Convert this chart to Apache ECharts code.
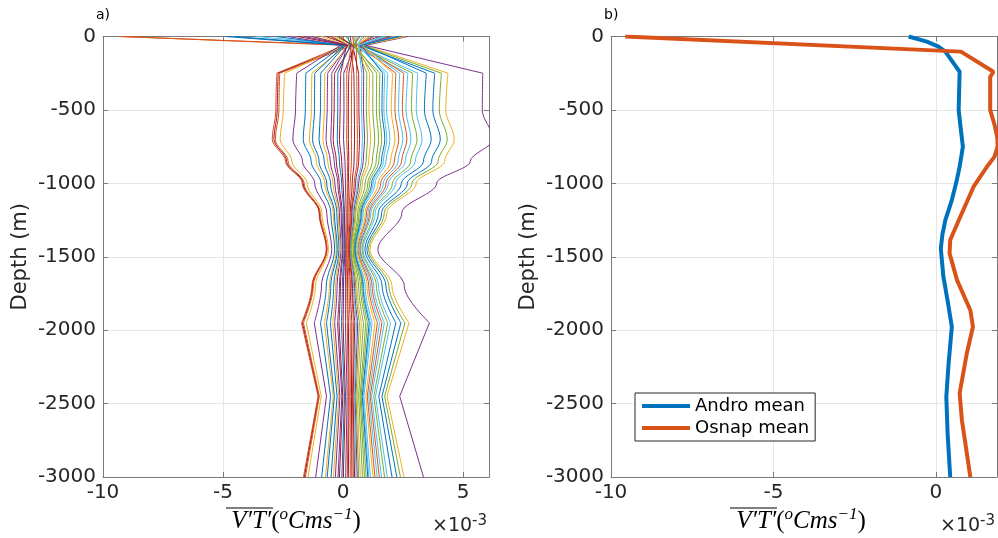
<!DOCTYPE html>
<html><head><meta charset="utf-8">
<script src="https://cdn.jsdelivr.net/npm/echarts@6/dist/echarts.min.js"></script>
<style>html,body{margin:0;padding:0;background:#fff}#c{width:998px;height:538px}</style>
</head><body><div id="c"></div>
<script>
// Depth levels (m) of each profile in panel a)
const profileDepths = [0, -60, -250, -500, -700, -850, -1000, -1200, -1450, -1700, -1950, -2450, -3000];
// V'T' (x 1e-3 degC m/s) of each profile at the depths above
const profiles = [
  [1.2, 0.7, 3.82, 3.74, 4.05, 3.69, 2.68, 1.61, 0.99, 1.79, 2.41, 1.62, 2.24],
  [-9.3, 0.05, -2.76, -2.80, -2.95, -2.40, -1.70, -1.00, -0.70, -1.30, -1.73, -1.04, -1.65],
  [2.1, 0.9, 4.37, 4.28, 4.63, 4.23, 3.05, 1.83, 1.12, 2.04, 2.75, 1.83, 2.54],
  [2.7, 0.95, 5.82, 5.8, 6.25, 5.3, 3.9, 2.45, 1.45, 2.55, 3.6, 2.36, 3.35],
  [1.6, 0.8, 4.10, 4.01, 4.34, 3.96, 2.87, 1.72, 1.06, 1.91, 2.58, 1.73, 2.39],
  [0.4, 0.6, 3.11, 3.05, 3.29, 3.01, 2.19, 1.34, 0.83, 1.48, 1.98, 1.35, 1.84],
  [-0.5, 0.2, -2.70, -2.74, -2.88, -2.35, -1.66, -0.98, -0.68, -1.27, -1.69, -1.01, -1.61],
  [2.4, 0.85, 3.47, 3.39, 3.67, 3.35, 2.43, 1.47, 0.91, 1.63, 2.2, 1.49, 2.04],
  [-9.25, 0.4, -2.64, -2.67, -2.82, -2.29, -1.62, -0.95, -0.66, -1.24, -1.65, -0.99, -1.57],
  [-1.2, 0.1, -2.43, -2.49, -2.62, -2.13, -1.5, -0.88, -0.61, -1.15, -1.53, -0.91, -1.46],
  [-2.3, -0.1, -1.93, -1.98, -2.09, -1.69, -1.18, -0.68, -0.47, -0.90, -1.2, -0.69, -1.14],
  [0.9, 0.55, 2.90, 2.85, 3.08, 2.82, 2.06, 1.26, 0.79, 1.39, 1.86, 1.28, 1.73],
  [-3.6, 0.3, 2.70, 2.62, 2.83, 2.59, 1.89, 1.16, 0.73, 1.28, 1.72, 1.19, 1.6],
  [0.7, 0.45, 0.24, 0.22, 0.22, 0.24, 0.22, 0.2, 0.16, 0.19, 0.22, 0.25, 0.22],
  [-4.9, 0.0, -1.55, -1.57, -1.66, -1.33, -0.92, -0.51, -0.35, -0.70, -0.94, -0.52, -0.89],
  [1.9, 0.7, 2.53, 2.47, 2.66, 2.44, 1.79, 1.1, 0.7, 1.21, 1.62, 1.13, 1.51],
  [-0.9, 0.15, -1.30, -1.32, -1.40, -1.11, -0.76, -0.41, -0.28, -0.57, -0.78, -0.41, -0.73],
  [1.5, 0.5, 0.03, 0.04, 0.02, 0.08, 0.1, 0.13, 0.11, 0.1, 0.1, 0.17, 0.11],
  [-0.3, 0.4, 1.53, 1.51, 1.61, 1.49, 1.11, 0.72, 0.47, 0.78, 1.02, 0.75, 0.96],
  [2.2, 0.75, 2.36, 2.31, 2.49, 2.29, 1.68, 1.04, 0.66, 1.14, 1.52, 1.07, 1.42],
  [0.3, 0.35, -0.35, -0.37, -0.41, -0.28, -0.16, -0.04, -0.01, -0.11, -0.17, -0.01, -0.15],
  [-4.5, 0.1, -0.93, -0.94, -1.0, -0.78, -0.52, -0.26, -0.17, -0.39, -0.53, -0.25, -0.5],
  [1.1, 0.65, 2.20, 2.16, 2.32, 2.14, 1.57, 0.98, 0.62, 1.07, 1.43, 1.01, 1.33],
  [2.6, 0.8, 2.07, 2.01, 2.16, 1.98, 1.46, 0.92, 0.59, 1.0, 1.33, 0.95, 1.25],
  [-1.6, 0.2, -0.64, -0.66, -0.71, -0.53, -0.34, -0.15, -0.09, -0.25, -0.35, -0.13, -0.32],
  [0.5, 0.5, 1.40, 1.39, 1.48, 1.38, 1.03, 0.67, 0.44, 0.72, 0.95, 0.71, 0.89],
  [1.7, 0.6, 1.86, 1.81, 1.95, 1.79, 1.33, 0.84, 0.54, 0.92, 1.21, 0.87, 1.14],
  [-0.7, 0.3, 0.45, 0.47, 0.48, 0.46, 0.38, 0.3, 0.23, 0.3, 0.37, 0.35, 0.37],
  [-2.8, 0.05, -1.18, -1.19, -1.27, -1.0, -0.68, -0.36, -0.24, -0.51, -0.69, -0.36, -0.66],
  [1.3, 0.55, 0.57, 0.58, 0.6, 0.58, 0.46, 0.34, 0.25, 0.36, 0.44, 0.39, 0.43],
  [-0.4, 0.25, -0.76, -0.78, -0.84, -0.64, -0.42, -0.2, -0.12, -0.31, -0.43, -0.18, -0.4],
  [2.0, 0.7, 0.86, 0.85, 0.9, 0.84, 0.65, 0.45, 0.32, 0.48, 0.61, 0.5, 0.59],
  [0.1, 0.45, 1.24, 1.24, 1.32, 1.22, 0.92, 0.61, 0.41, 0.65, 0.85, 0.65, 0.81],
  [0.8, 0.6, 1.74, 1.7, 1.82, 1.68, 1.25, 0.79, 0.52, 0.86, 1.14, 0.83, 1.07],
  [-1.9, 0.15, -0.10, -0.12, -0.15, -0.06, 0.0, 0.06, 0.07, 0.02, 0.0, 0.1, 0.01],
  [2.3, 0.75, 1.65, 1.62, 1.74, 1.6, 1.19, 0.76, 0.5, 0.83, 1.09, 0.8, 1.03],
  [-0.1, 0.35, 0.15, 0.16, 0.15, 0.19, 0.18, 0.18, 0.15, 0.16, 0.18, 0.22, 0.18],
  [1.0, 0.6, 1.11, 1.08, 1.15, 1.07, 0.81, 0.54, 0.37, 0.58, 0.76, 0.59, 0.72],
  [-1.3, 0.2, -0.47, -0.47, -0.51, -0.37, -0.22, -0.08, -0.03, -0.15, -0.23, -0.05, -0.21],
  [0.6, 0.5, 0.99, 0.97, 1.02, 0.96, 0.73, 0.5, 0.34, 0.53, 0.68, 0.54, 0.65],
  [1.8, 0.65, 0.78, 0.77, 0.81, 0.77, 0.6, 0.42, 0.3, 0.44, 0.56, 0.47, 0.54],
  [-0.2, 0.4, 0.65, 0.66, 0.69, 0.65, 0.52, 0.37, 0.27, 0.39, 0.49, 0.42, 0.48],
  [0.2, 0.3, -0.22, -0.22, -0.24, -0.15, -0.06, 0.03, 0.04, -0.03, -0.07, 0.06, -0.05],
  [0.4, 0.45, 0.36, 0.35, 0.35, 0.35, 0.3, 0.25, 0.2, 0.25, 0.3, 0.3, 0.3]
];
// Panel b) means
const androDepth = [0, -35, -69, -103, -240, -500, -620, -750, -887, -1000, -1114, -1250, -1350, -1443, -1636, -1800, -1977, -2227, -2454, -2704, -3000];
const androMean  = [-0.84, -0.28, 0.08, 0.29, 0.73, 0.70, 0.76, 0.83, 0.73, 0.62, 0.49, 0.29, 0.2, 0.15, 0.23, 0.36, 0.49, 0.39, 0.32, 0.36, 0.44];
const osnapDepth = [0, -103, -240, -275, -500, -615, -690, -750, -820, -887, -1023, -1228, -1386, -1477, -1659, -1864, -1977, -2159, -2431, -2613, -3000];
const osnapMean  = [-9.56, 0.77, 1.77, 1.67, 1.67, 1.82, 1.89, 1.9, 1.8, 1.57, 1.16, 0.75, 0.44, 0.42, 0.65, 1.06, 1.14, 0.95, 0.73, 0.8, 1.06];
const legendNames = ['Andro mean', 'Osnap mean'];
const depthTicks = {min: -3000, max: 0, interval: 500};
const xTicksA = {min: -10, max: 6.08, interval: 5};
const xTicksB = {min: -10, max: 1.88, interval: 5};

const palette = ['#0072BD','#D95319','#EDB120','#7E2F8E','#77AC30','#4DBEEE','#A2142F'];
const FONT = 'DejaVu Sans';
const frameColor = '#7a7a7a';
const gridColor = '#e6e6e6';

function xAxis(gi, pos, main, t) {
  return {
    type: 'value', gridIndex: gi, position: pos, min: t.min, max: t.max, interval: t.interval,
    axisLine: {show: true, onZero: false, lineStyle: {color: frameColor, width: 1}},
    axisTick: {show: true, inside: true, length: 5, lineStyle: {color: frameColor, width: 1}},
    axisLabel: {show: main, fontSize: 20, color: '#262626', margin: 6, fontFamily: FONT,
      showMaxLabel: false, showMinLabel: true, formatter: v => String(v)},
    splitLine: {show: main, lineStyle: {color: gridColor, width: 1}}
  };
}
function yAxis(gi, pos, main) {
  return {
    type: 'value', gridIndex: gi, position: pos, min: depthTicks.min, max: depthTicks.max, interval: depthTicks.interval,
    axisLine: {show: true, onZero: false, lineStyle: {color: frameColor, width: 1}},
    axisTick: {show: true, inside: true, length: 5, lineStyle: {color: frameColor, width: 1}},
    axisLabel: {show: main, fontSize: 20, color: '#262626', margin: 7, fontFamily: FONT,
      showMaxLabel: true, showMinLabel: true, formatter: v => String(v)},
    splitLine: {show: main, lineStyle: {color: gridColor, width: 1}},
    name: main ? 'Depth (m)' : '', nameLocation: 'middle', nameGap: 72,
    nameTextStyle: {fontSize: 21, color: '#262626', fontFamily: FONT}
  };
}

const series = [];
profiles.forEach((row, i) => {
  const color = palette[i % palette.length];
  const pts = row.map((v, k) => [v, profileDepths[k]]);
  const base = {type: 'line', xAxisIndex: 0, yAxisIndex: 0, symbol: 'none', silent: true,
    lineStyle: {color: color, width: 1}, itemStyle: {color: color}, z: 2};
  series.push(Object.assign({}, base, {data: pts.slice(0, 3)}));
  series.push(Object.assign({}, base, {data: pts.slice(2, 11), smooth: 0.35, smoothMonotone: 'y'}));
  series.push(Object.assign({}, base, {data: pts.slice(10)}));
});
series.push({type: 'line', name: legendNames[0], xAxisIndex: 2, yAxisIndex: 2, symbol: 'none', silent: true,
  data: androMean.map((v, k) => [v, androDepth[k]]),
  lineStyle: {color: '#0072BD', width: 4}, itemStyle: {color: '#0072BD'}, z: 3});
series.push({type: 'line', name: legendNames[1], xAxisIndex: 2, yAxisIndex: 2, symbol: 'none', silent: true,
  data: osnapMean.map((v, k) => [v, osnapDepth[k]]),
  lineStyle: {color: '#D95319', width: 4}, itemStyle: {color: '#D95319'}, z: 3});

const labRich = {
  i: {fontFamily: 'Liberation Serif', fontStyle: 'italic', fontSize: 25, lineHeight: 30, fill: '#000', color: '#000'},
  n: {fontFamily: 'Liberation Serif', fontSize: 25, lineHeight: 30, fill: '#000', color: '#000'},
  s: {fontFamily: 'Liberation Serif', fontStyle: 'italic', fontSize: 17, lineHeight: 17, verticalAlign: 'top', fill: '#000', color: '#000'}
};
const labText = '{i|V′T′}{n|(}{s|o}{i|Cms}{s|−1}{n|)}';
const expRich = {
  a: {fontFamily: FONT, fontSize: 19, lineHeight: 24, fill: '#262626', color: '#262626'},
  b: {fontFamily: FONT, fontSize: 15, lineHeight: 15, verticalAlign: 'top', fill: '#262626', color: '#262626'}
};

const chart = echarts.init(document.getElementById('c'), null, {renderer: 'canvas'});
chart.setOption({
  animation: false,
  backgroundColor: '#fff',
  grid: [
    {left: 103, top: 36.5, width: 386, height: 440.5, outerBoundsMode: 'none', containLabel: false},
    {left: 611, top: 36.5, width: 386, height: 440.5, outerBoundsMode: 'none', containLabel: false}
  ],
  xAxis: [xAxis(0, 'bottom', true, xTicksA), xAxis(0, 'top', false, xTicksA),
          xAxis(1, 'bottom', true, xTicksB), xAxis(1, 'top', false, xTicksB)],
  yAxis: [yAxis(0, 'left', true), yAxis(0, 'right', false),
          yAxis(1, 'left', true), yAxis(1, 'right', false)],
  legend: {
    data: legendNames.map(n => ({name: n, icon: 'rect'})), orient: 'vertical', left: 635, top: 393,
    backgroundColor: '#fff', borderColor: '#262626', borderWidth: 1, borderRadius: 0,
    padding: [2, 6, 2, 7], itemWidth: 48, itemHeight: 4, itemGap: 0,
    textStyle: {fontSize: 18, lineHeight: 22, color: '#000', fontFamily: FONT}, selectedMode: false
  },
  graphic: [
    {type: 'text', x: 96, y: 8, style: {text: 'a)', fontSize: 14, fill: '#000', fontFamily: FONT}},
    {type: 'text', x: 604, y: 8, style: {text: 'b)', fontSize: 14, fill: '#000', fontFamily: FONT}},
    {type: 'text', x: 296, y: 521, style: {text: labText, rich: labRich, align: 'center', verticalAlign: 'middle'}},
    {type: 'text', x: 801, y: 521, style: {text: labText, rich: labRich, align: 'center', verticalAlign: 'middle'}},
    {type: 'line', shape: {x1: 226, y1: 508, x2: 273, y2: 508}, style: {stroke: '#000', lineWidth: 1.2}},
    {type: 'line', shape: {x1: 730, y1: 508, x2: 777, y2: 508}, style: {stroke: '#000', lineWidth: 1.2}},
    {type: 'text', x: 432, y: 538, style: {text: '{a|×10}{b|-3}', rich: expRich, verticalAlign: 'bottom'}},
    {type: 'text', x: 940, y: 538, style: {text: '{a|×10}{b|-3}', rich: expRich, verticalAlign: 'bottom'}}
  ],
  series: series
});
</script>
</body></html>
